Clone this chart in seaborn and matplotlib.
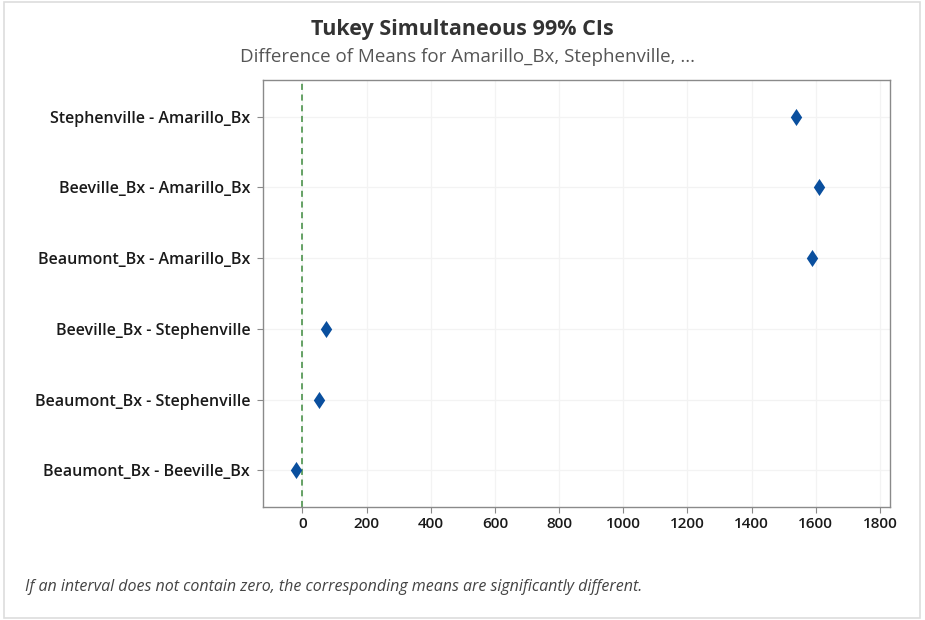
import matplotlib
matplotlib.use("Agg")
import matplotlib.pyplot as plt
import seaborn as sns
import pandas as pd
from matplotlib.patches import Rectangle

# --- données ---
comparaisons = [
    "Stephenville - Amarillo_Bx",
    "Beeville_Bx - Amarillo_Bx",
    "Beaumont_Bx - Amarillo_Bx",
    "Beeville_Bx - Stephenville",
    "Beaumont_Bx - Stephenville",
    "Beaumont_Bx - Beeville_Bx",
]
diff_moyennes = [1538, 1611, 1589, 73, 51, -21]
demi_ic = [6, 6, 6, 6, 6, 6]
x_ticks = [0, 200, 400, 600, 800, 1000, 1200, 1400, 1600, 1800]

df = pd.DataFrame({"Comparaison": comparaisons, "Diff": diff_moyennes, "IC": demi_ic})

sns.set_theme(style="white")
plt.rcParams["font.family"] = ["Open Sans", "DejaVu Sans"]

fig = plt.figure(figsize=(9.25, 6.2), dpi=100)
ax = fig.add_axes([0.284, 0.182, 0.678, 0.689])

# grille légère
for t in x_ticks:
    ax.axvline(t, color="#f3f3f3", lw=0.9, zorder=0)
for i in range(len(comparaisons)):
    ax.axhline(i, color="#f3f3f3", lw=0.9, zorder=0)

# ligne de référence à zéro
ax.axvline(0, color="#3d8a3d", lw=1.1, ls=(0, (4, 3)), zorder=1)

# intervalles
ax.errorbar(df["Diff"], range(len(df)), xerr=df["IC"], fmt="none",
            ecolor="#0a4f9e", elinewidth=1.5, zorder=2)
sns.pointplot(data=df, x="Diff", y="Comparaison", orient="h", order=comparaisons,
              linestyle="none", markers="d", color="#0a4f9e", markersize=6.5,
              errorbar=None, ax=ax, zorder=3)

ax.set_xlim(-124, 1831)
ax.set_ylim(len(comparaisons) - 0.48, -0.52)
ax.set_xticks(x_ticks)
ax.set_xlabel("")
ax.set_ylabel("")

for s in ax.spines.values():
    s.set_color("#8a8a8a")
    s.set_linewidth(1.0)
ax.tick_params(axis="both", which="both", direction="out", length=4, width=0.8,
               color="#8a8a8a", labelcolor="#1a1a1a")
ax.tick_params(axis="x", bottom=True, pad=3, labelsize=11)
ax.tick_params(axis="y", left=True, pad=5, labelsize=11.5)
for lbl in ax.get_yticklabels() + ax.get_xticklabels():
    lbl.set_fontweight("semibold")

# titres
fig.text(0.5, 0.952, "Tukey Simultaneous 99% CIs", ha="center", va="center",
         fontsize=15.5, fontweight="bold", color="#333333")
fig.text(0.505, 0.908, "Difference of Means for Amarillo_Bx, Stephenville, ...",
         ha="center", va="center", fontsize=13.5, color="#555555")

# note
fig.text(0.027, 0.053,
         "If an interval does not contain zero, the corresponding means are significantly different.",
         ha="left", va="center", fontsize=11.5, style="italic", color="#444444")

# cadre léger autour de la figure
fig.patches.append(Rectangle((0.004, 0.004), 0.991, 0.992, transform=fig.transFigure,
                             fill=False, edgecolor="#dddddd", lw=1.2))

fig.savefig("out.png", dpi=100)
